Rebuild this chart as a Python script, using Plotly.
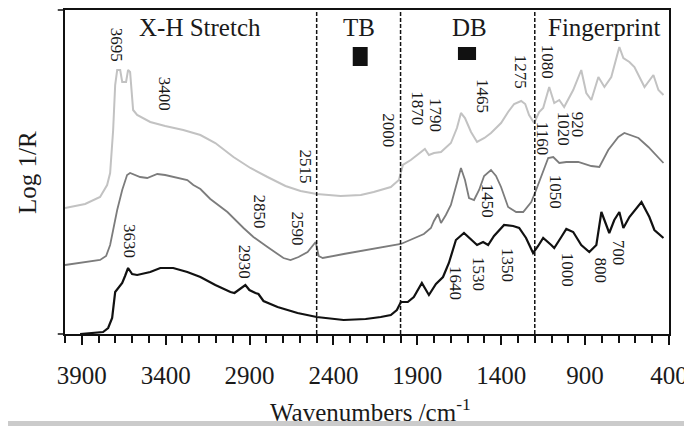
import plotly.graph_objects as go

# ---- data (wavenumber cm^-1, relative Log 1/R, offset spectra) ----
top_wn = [4000, 3880, 3791, 3749, 3731, 3713, 3701, 3689, 3671, 3659, 3636, 3624, 3612, 3594, 3570,
          3522, 3492, 3403, 3295, 3193, 3104, 2996, 2895, 2793, 2686, 2596, 2500, 2357, 2237, 2160,
          2058, 2010, 1986, 1939, 1879, 1855, 1831, 1801, 1759, 1700, 1664, 1640, 1616, 1580, 1544,
          1500, 1461, 1401, 1359, 1323, 1281, 1257, 1234, 1204, 1174, 1150, 1114, 1084, 1054, 1025,
          971, 923, 893, 863, 821, 785, 744, 696, 672, 636, 606, 546, 493, 463, 433]
top_val = [126, 130, 137, 149, 161, 204, 249, 264, 264, 252, 252, 264, 262, 224, 219,
           215, 212, 208, 204, 199, 191, 177, 166, 157, 148, 143, 140, 138, 139, 142,
           147, 154, 169, 174, 182, 185, 179, 181, 182, 191, 206, 221, 216, 202, 192,
           196, 201, 211, 222, 230, 233, 230, 219, 211, 222, 226, 247, 231, 234, 227,
           244, 264, 241, 234, 257, 247, 257, 287, 276, 272, 267, 247, 259, 244, 239]

mid_wn = [4000, 3910, 3791, 3755, 3731, 3713, 3689, 3659, 3630, 3612, 3552, 3510, 3450, 3403, 3331,
          3271, 3235, 3193, 3134, 3032, 2936, 2877, 2793, 2698, 2656, 2608, 2554, 2524, 2506, 2488,
          2464, 2339, 2208, 2160, 1998, 1861, 1819, 1801, 1777, 1759, 1730, 1700, 1670, 1640, 1616,
          1592, 1562, 1532, 1502, 1461, 1431, 1401, 1359, 1311, 1269, 1221, 1192, 1162, 1120, 1090,
          1054, 1012, 941, 863, 815, 762, 702, 666, 636, 582, 523, 487, 433]
mid_val = [69, 71, 74, 78, 89, 104, 124, 144, 159, 161, 157, 156, 160, 159, 156,
           154, 149, 145, 135, 122, 106, 97, 87, 76, 74, 77, 82, 88, 92, 78,
           76, 80, 84, 85, 90, 100, 106, 113, 120, 111, 119, 129, 149, 166, 154,
           136, 134, 144, 158, 164, 158, 147, 127, 122, 122, 132, 144, 158, 176, 177,
           171, 172, 172, 168, 167, 184, 197, 201, 199, 196, 187, 181, 171]

bot_wn = [3910, 3833, 3773, 3743, 3719, 3701, 3683, 3659, 3642, 3624, 3600, 3570, 3492, 3432, 3355,
          3271, 3193, 3104, 3014, 2990, 2925, 2901, 2865, 2847, 2817, 2733, 2614, 2500, 2339, 2208,
          2118, 2058, 2022, 1998, 1957, 1921, 1873, 1831, 1789, 1747, 1712, 1670, 1622, 1580, 1544,
          1508, 1478, 1443, 1383, 1329, 1293, 1252, 1210, 1180, 1150, 1102, 1084, 1042, 1012, 971,
          923, 875, 833, 803, 756, 726, 696, 672, 636, 564, 517, 487, 433]
bot_val = [0, 1, 2, 6, 16, 42, 46, 51, 58, 66, 60, 59, 62, 66, 66,
           62, 57, 49, 42, 41, 49, 44, 41, 40, 33, 27, 21, 17, 14, 15,
           17, 19, 24, 32, 32, 37, 51, 39, 50, 57, 71, 94, 101, 94, 89,
           92, 89, 98, 109, 108, 106, 96, 81, 88, 96, 89, 86, 97, 105, 102,
           89, 82, 89, 122, 101, 114, 122, 106, 117, 132, 117, 104, 96]

# peak labels: (text, wavenumber position, height position)
peak_labels = [("3695", 3689, 289), ("3400", 3403, 240), ("2515", 2566, 168), ("2000", 2070, 204),
               ("1870", 1897, 226), ("1790", 1789, 219), ("1465", 1508, 238), ("1275", 1281, 262),
               ("1080", 1120, 272), ("920", 941, 209), ("1020", 1025, 205), ("1160", 1150, 196),
               ("1050", 1072, 142), ("1450", 1478, 133), ("3630", 3612, 93), ("2850", 2835, 122),
               ("2590", 2614, 106), ("2930", 2925, 72), ("1640", 1670, 51), ("1530", 1532, 60),
               ("1350", 1359, 69), ("1000", 1001, 64), ("800", 803, 63), ("700", 696, 81)]

region_names = ["X-H Stretch", "TB", "DB", "Fingerprint"]
region_centers = [3193, 2249, 1592, 785]
region_bounds = [2500, 2000, 1200]

tick_vals = [3900, 3400, 2900, 2400, 1900, 1400, 900, 400]

SERIF = "Liberation Serif"
TXT = "#1a1a1a"

fig = go.Figure()
fig.add_trace(go.Scatter(x=top_wn, y=top_val, mode="lines",
                         line=dict(color="#c2c2c2", width=2), showlegend=False))
fig.add_trace(go.Scatter(x=mid_wn, y=mid_val, mode="lines",
                         line=dict(color="#7c7c7c", width=1.8), showlegend=False))
fig.add_trace(go.Scatter(x=bot_wn, y=bot_val, mode="lines",
                         line=dict(color="#111111", width=2.2), showlegend=False))

for b in region_bounds:
    fig.add_shape(type="line", x0=b, x1=b, y0=0, y1=1, xref="x", yref="paper",
                  line=dict(color="#111", width=1.5, dash="4px,2px"))

# region markers (black squares under TB and DB)
fig.add_shape(type="rect", x0=2285, x1=2196, y0=268, y1=287, xref="x", yref="y",
              fillcolor="#111", line=dict(width=0))
fig.add_shape(type="rect", x0=1658, x1=1550, y0=274, y1=287, xref="x", yref="y",
              fillcolor="#111", line=dict(width=0))

for name, cx in zip(region_names, region_centers):
    fig.add_annotation(x=cx, y=307, xref="x", yref="y", text=name, showarrow=False,
                       font=dict(family=SERIF, size=25, color=TXT),
                       xanchor="center", yanchor="middle")

for txt, px, py in peak_labels:
    fig.add_annotation(x=px, y=py, xref="x", yref="y", text=txt, showarrow=False,
                       textangle=90, font=dict(family=SERIF, size=17, color=TXT),
                       xanchor="center", yanchor="middle")

# axis titles
fig.add_annotation(x=0.505, y=-0.2346, xref="paper", yref="paper",
                   text="Wavenumbers /cm<sup>-1</sup>", showarrow=False,
                   font=dict(family=SERIF, size=25, color=TXT),
                   xanchor="center", yanchor="middle")
fig.add_annotation(x=-0.063, y=0.5, xref="paper", yref="paper", text="Log 1/R",
                   showarrow=False, textangle=-90,
                   font=dict(family=SERIF, size=25, color=TXT),
                   xanchor="center", yanchor="middle")

# axis line extensions to the left of the frame
fig.add_shape(type="line", x0=-0.012, x1=0, y0=0, y1=0, xref="paper", yref="paper",
              line=dict(color="#111", width=1.5))
fig.add_shape(type="line", x0=-0.012, x1=0, y0=1, y1=1, xref="paper", yref="paper",
              line=dict(color="#111", width=1.5))
# grey band at the bottom edge of the picture
fig.add_shape(type="rect", x0=-0.11, x1=1.04, y0=-0.2685, y1=-0.30, xref="paper", yref="paper",
              fillcolor="#cbcbcb", line=dict(width=0))

# page body adds an 8px offset, so margins are trimmed accordingly
fig.update_layout(
    width=692, height=426,
    margin=dict(l=57, r=31, t=2, b=100, autoexpand=False),
    paper_bgcolor="white", plot_bgcolor="white",
    font=dict(family=SERIF, color=TXT),
    xaxis=dict(range=[4000, 400], tickvals=tick_vals, ticktext=[str(v) for v in tick_vals],
               ticks="outside", ticklen=9, tickwidth=1.5, tickcolor="#111",
               ticklabelstandoff=9,
               minor=dict(dtick=100, tick0=4000, ticks="outside", ticklen=7, tickwidth=1.5,
                          tickcolor="#111"),
               showline=True, linecolor="#111", linewidth=1.5, mirror=True,
               showgrid=False, zeroline=False, automargin=False,
               tickfont=dict(family=SERIF, size=25, color=TXT)),
    yaxis=dict(range=[0, 324], showticklabels=False, ticks="",
               showline=True, linecolor="#111", linewidth=1.5, mirror=True,
               showgrid=False, zeroline=False, automargin=False),
)

fig.write_html("out.html")
